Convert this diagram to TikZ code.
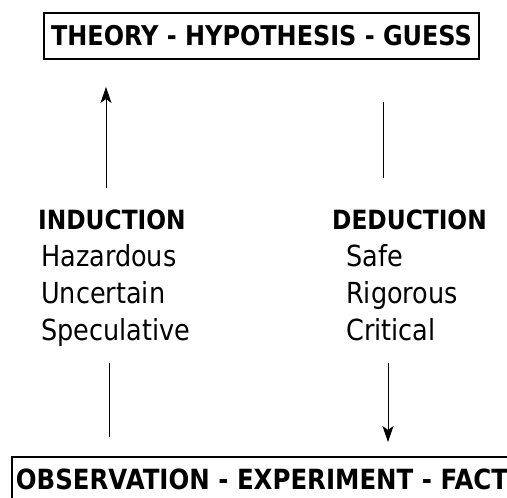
\documentclass[tikz,border=0pt]{standalone}
\usepackage{fontspec}
\setmainfont[FakeStretch=0.88]{DejaVu Sans}
\usetikzlibrary{arrows.meta}
\begin{document}
\begin{tikzpicture}[x=1pt,y=-1pt,
  boxed/.style={draw,line width=2pt,inner sep=0pt,font=\bfseries\fontsize{27.2}{27}\selectfont},
  head/.style={anchor=base west,inner sep=0pt,font=\bfseries\fontsize{26.5}{26}\selectfont},
  item/.style={anchor=base west,inner sep=0pt,font=\fontsize{29}{29}\selectfont},
  conn/.style={line width=0.8pt},
  tip/.style={-{Stealth[length=16pt,width=11pt,inset=4pt]}}]
\useasboundingbox (0,0) rectangle (507,498);
\node[boxed,minimum width=435pt,minimum height=46pt] (theory) at (261.5,36) {THEORY - HYPOTHESIS - GUESS};
\node[boxed,font=\bfseries\fontsize{27.8}{27}\selectfont,minimum width=500pt,minimum height=44pt] (obs) at (262,479) {OBSERVATION - EXPERIMENT - FACT};
\node[head] (ind) at (38,229) {INDUCTION};
\node[item] (haz) at (41,266) {Hazardous};
\node[item] (unc) at (41,303) {Uncertain};
\node[item] (spe) at (41,340) {Speculative};
\node[head] (ded) at (332,229) {DEDUCTION};
\node[item] (saf) at (346,266) {Safe};
\node[item] (rig) at (346,303) {Rigorous};
\node[item] (cri) at (346,340) {Critical};
\coordinate (a1) at (106,188);
\coordinate (a2) at (106,87);
\coordinate (b1) at (383,102);
\coordinate (b2) at (383,178);
\coordinate (c1) at (109,363);
\coordinate (c2) at (109,437);
\coordinate (d1) at (388,363);
\coordinate (d2) at (388,442);
\draw[conn,tip] (a1) -- (a2);
\draw[conn] (b1) -- (b2);
\draw[conn] (c1) -- (c2);
\draw[conn,tip] (d1) -- (d2);
\end{tikzpicture}
\end{document}
